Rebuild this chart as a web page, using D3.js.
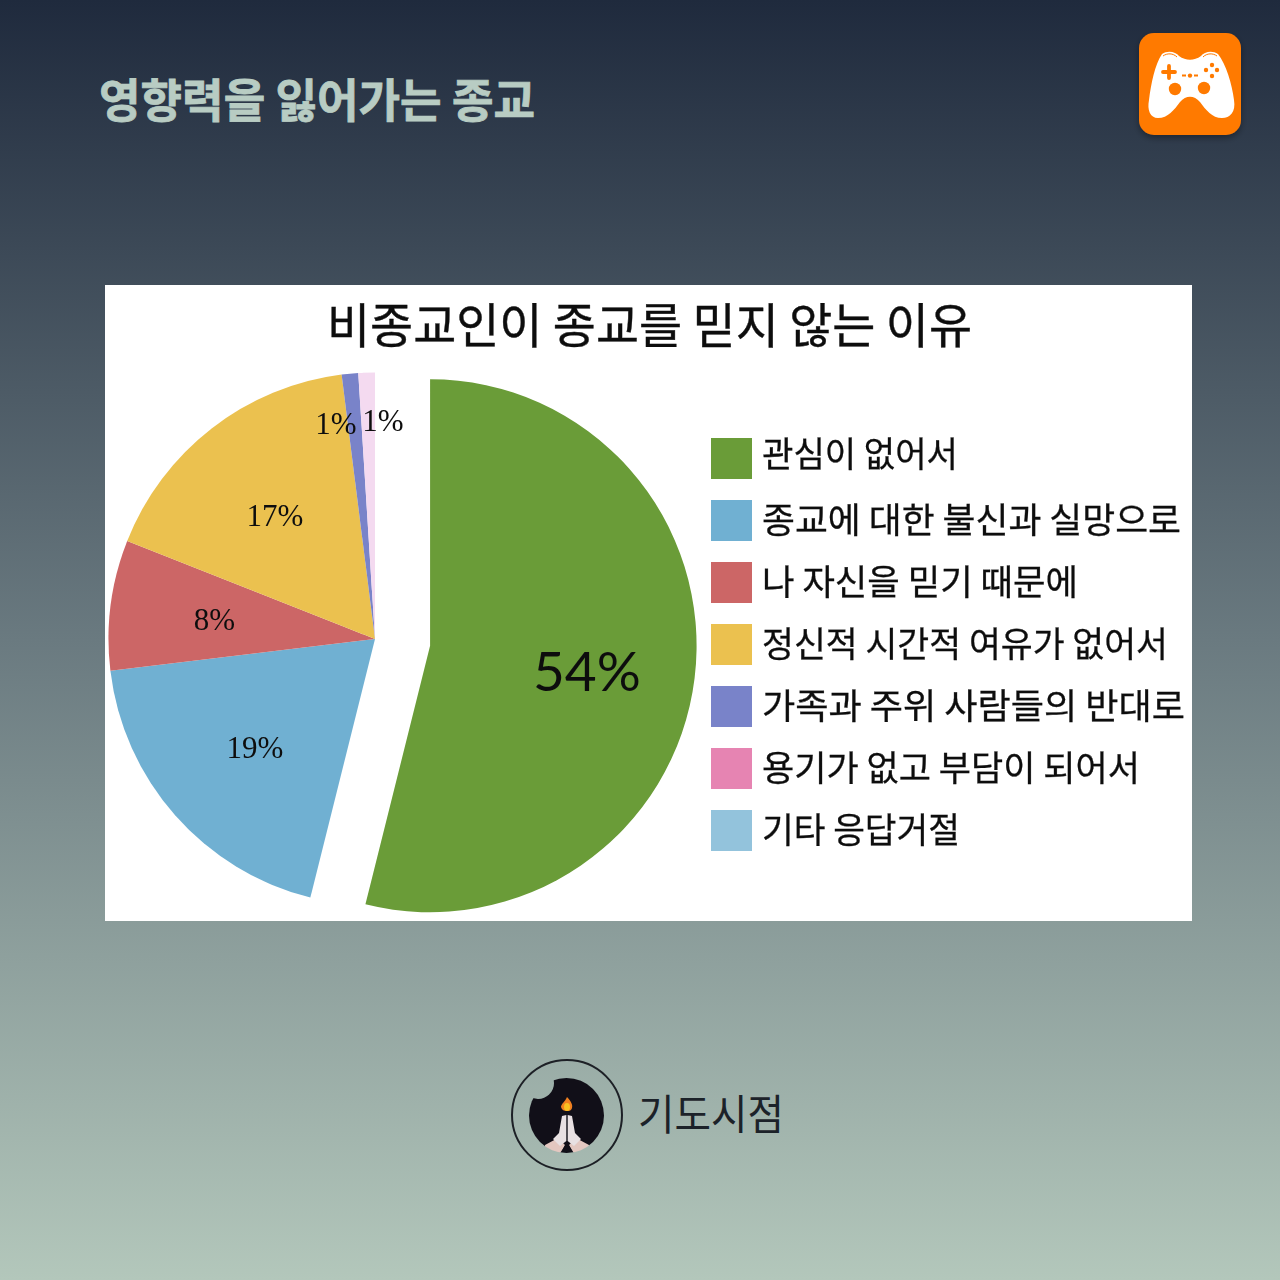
<!DOCTYPE html>
<html>
<head>
<meta charset="utf-8">
<script src="https://cdn.jsdelivr.net/npm/d3@7"></script>
<style>
  html, body { margin: 0; padding: 0; }
  svg { display: block; }
  text { font-family: "Noto Sans CJK KR", "Noto Sans", sans-serif; }
</style>
</head>
<body>
<svg width="1280" height="1280"></svg>
<script>
const headline = '영향력을 잃어가는 종교'
const chartTitle = '비종교인이 종교를 믿지 않는 이유'
const brandName = '기도시점'

const categories = [
  '관심이 없어서',
  '종교에 대한 불신과 실망으로',
  '나 자신을 믿기 때문에',
  '정신적 시간적 여유가 없어서',
  '가족과 주위 사람들의 반대로',
  '용기가 없고 부담이 되어서',
  '기타 응답거절',
]
// Values, the labels show them rounded
const shares = [53.9, 19.2, 7.9, 17.0, 1.0, 1.0, 0]
const shareLabels = ['54%', '19%', '8%', '17%', '1%', '1%', '']
const sliceColors = ['#6a9c37', '#70b0d2', '#cc6666', '#ebc14f', '#7983c9', '#f4daf0', '#93c3dc']
const legendColors = ['#6a9c37', '#70b0d2', '#cc6666', '#ebc14f', '#7983c9', '#e684b2', '#93c3dc']
// Rendered width of each legend line in the reference
const legendWidths = [196, 419, 316, 406, 423, 378, 198]

const svg = d3.select('svg')
const defs = svg.append('defs')

const bg = defs.append('linearGradient')
  .attr('id', 'bg').attr('x1', 0).attr('y1', 0).attr('x2', 0).attr('y2', 1)
bg.append('stop').attr('offset', '0%').attr('stop-color', '#1f2a3d')
bg.append('stop').attr('offset', '50%').attr('stop-color', '#6a7a80')
bg.append('stop').attr('offset', '100%').attr('stop-color', '#b3c7bb')

const shadow = defs.append('filter').attr('id', 'shadow')
  .attr('x', '-20%').attr('y', '-20%').attr('width', '140%').attr('height', '140%')
shadow.append('feDropShadow')
  .attr('dx', 0).attr('dy', 3).attr('stdDeviation', 3)
  .attr('flood-color', '#000').attr('flood-opacity', 0.35)

// The chart in the reference is an enlarged bitmap, so it is slightly soft
defs.append('filter').attr('id', 'soft')
  .append('feGaussianBlur').attr('stdDeviation', 0.45)

svg.append('rect').attr('width', 1280).attr('height', 1280).attr('fill', 'url(#bg)')

svg.append('text')
  .attr('x', 99).attr('y', 117)
  .attr('textLength', 436).attr('lengthAdjust', 'spacingAndGlyphs')
  .attr('font-size', 46).attr('font-weight', 700).attr('fill', '#b8ccc3')
  .attr('stroke', '#b8ccc3').attr('stroke-width', 0.8)
  .text(headline)

// Game controller badge, top right
const badge = svg.append('g')
badge.append('rect')
  .attr('x', 1139).attr('y', 33).attr('width', 102).attr('height', 102).attr('rx', 15)
  .attr('fill', '#ff7a00').attr('filter', 'url(#shadow)')
badge.append('path')
  .attr('fill', '#fff')
  .attr('d', 'M1162 54 C1168 50 1176 52 1179 56 C1186 61 1194 61 1201 56 C1204 52 1212 50 1218 54 C1226 64 1232 84 1234 100 C1236 112 1230 118 1222 118 C1212 118 1206 110 1200 102 C1194 95 1186 95 1180 102 C1174 110 1168 118 1158 118 C1150 118 1147 110 1149 100 C1151 84 1155 64 1162 54 Z')
badge.append('path')
  .attr('stroke', '#ff7a00').attr('stroke-width', 1).attr('fill', 'none')
  .attr('d', 'M1163 56 C1167 53 1173 53 1177 57 M1203 57 C1207 53 1213 53 1217 56')
badge.selectAll('circle.stick')
  .data([[1175, 89], [1204, 88]])
  .enter().append('circle')
  .attr('cx', (d) => d[0]).attr('cy', (d) => d[1]).attr('r', 6.2)
  .attr('fill', '#ff7a00')
badge.selectAll('circle.btn')
  .data([[1212, 65], [1206, 70], [1217, 70], [1212, 76], [1190, 75.6]])
  .enter().append('circle')
  .attr('cx', (d) => d[0]).attr('cy', (d) => d[1]).attr('r', 2.2)
  .attr('fill', '#ff7a00')
badge.append('path')
  .attr('stroke', '#ff7a00').attr('stroke-width', 3.8).attr('stroke-linecap', 'round')
  .attr('fill', 'none')
  .attr('d', 'M1169 66 V78 M1163 72 H1175')
badge.append('path')
  .attr('stroke', '#ff7a00').attr('stroke-width', 2).attr('fill', 'none')
  .attr('d', 'M1182 75.6 H1186 M1194 75.6 H1198')

// White chart panel
svg.append('rect')
  .attr('x', 105).attr('y', 285).attr('width', 1087).attr('height', 636)
  .attr('fill', '#fff')
const chart = svg.append('g').attr('filter', 'url(#soft)')

chart.append('text')
  .attr('x', 327).attr('y', 343)
  .attr('textLength', 645).attr('lengthAdjust', 'spacingAndGlyphs')
  .attr('font-size', 48).attr('fill', '#111')
  .attr('stroke', '#111').attr('stroke-width', 0.4)
  .text(chartTitle)

// Pie
const radius = 266.5
const center = [375, 639]
const explode = 55.5
const labelRadius = 160
const pieData = d3.pie().sort(null).value((d) => d)(shares)
const arc = d3.arc().innerRadius(0).outerRadius(radius)
const midAngle = (d) => (d.startAngle + d.endAngle) / 2

// Small label shifts, the two thin slices have theirs pushed apart and out
const labelNudge = { 0: [-2, 6], 1: [0, 2], 2: [-2, 1], 3: [-2, 3], 4: [-24, -57], 5: [13, -59] }

const pie = chart.append('g').attr('transform', `translate(${center})`)
pie.selectAll('path')
  .data(pieData)
  .enter()
  .append('path')
  .attr('d', arc)
  .attr('fill', (d, i) => sliceColors[i])
  .attr('transform', (d, i) => i === 0
    ? `translate(${explode * Math.sin(midAngle(d))},${-explode * Math.cos(midAngle(d))})`
    : null)

pie.selectAll('text')
  .data(pieData)
  .enter()
  .append('text')
  .attr('x', (d, i) => {
    const base = labelRadius * Math.sin(midAngle(d)) + (i === 0 ? explode * Math.sin(midAngle(d)) : 0)
    return base + (labelNudge[i] ? labelNudge[i][0] : 0)
  })
  .attr('y', (d, i) => {
    const base = -labelRadius * Math.cos(midAngle(d)) + (i === 0 ? -explode * Math.cos(midAngle(d)) : 0)
    return base + (labelNudge[i] ? labelNudge[i][1] : 0)
  })
  .attr('dy', '0.35em')
  .attr('text-anchor', 'middle')
  .attr('font-size', (d, i) => i === 0 ? 55 : 31)
  .style('font-family', (d, i) => i === 0 ? 'Lato' : '"Liberation Serif"')
  .attr('fill', '#111')
  .text((d, i) => shareLabels[i])

// Legend
const legendY = d3.scalePoint().domain(categories).range([438, 810])
const legend = chart.append('g').selectAll('g')
  .data(categories)
  .enter()
  .append('g')
  .attr('transform', (d) => `translate(711,${legendY(d)})`)
legend.append('rect')
  .attr('width', 41).attr('height', 41)
  .attr('fill', (d, i) => legendColors[i])
legend.append('text')
  .attr('x', 51).attr('y', (d, i) => i === 0 ? 29 : 33)
  .attr('textLength', (d, i) => legendWidths[i]).attr('lengthAdjust', 'spacingAndGlyphs')
  .attr('font-size', 35).attr('fill', '#111')
  .attr('stroke', '#111').attr('stroke-width', 0.3)
  .text((d) => d)

// Brand logo at the bottom
const logo = svg.append('g')
logo.append('circle')
  .attr('cx', 567).attr('cy', 1115).attr('r', 55)
  .attr('fill', 'none').attr('stroke', '#1d2026').attr('stroke-width', 2)
defs.append('clipPath').attr('id', 'disc')
  .append('circle').attr('cx', 566.5).attr('cy', 1115.5).attr('r', 37.5)
const bite = defs.append('mask').attr('id', 'bite')
  .attr('maskUnits', 'userSpaceOnUse')
  .attr('x', 500).attr('y', 1050).attr('width', 140).attr('height', 130)
bite.append('rect').attr('x', 500).attr('y', 1050).attr('width', 140).attr('height', 130).attr('fill', '#fff')
bite.append('circle').attr('cx', 538).attr('cy', 1083).attr('r', 16).attr('fill', '#000')
const disc = logo.append('g').attr('clip-path', 'url(#disc)').attr('mask', 'url(#bite)')
disc.append('rect').attr('x', 525).attr('y', 1075).attr('width', 85).attr('height', 80).attr('fill', '#110f18')
disc.append('path').attr('fill', '#e3c7c0')
  .attr('d', 'M545 1145 L558 1138 L565 1145 L560 1155 L545 1155 Z M589 1145 L576 1138 L569 1145 L574 1155 L589 1155 Z')
disc.append('path').attr('fill', '#e8e0e2')
  .attr('d', 'M566.3 1115 L562 1116 L559 1133 L553 1139 L560 1146 L566.3 1141 Z M567.7 1115 L572 1116 L575 1133 L581 1139 L574 1146 L567.7 1141 Z')
disc.append('path').attr('fill', '#110f18')
  .attr('d', 'M567 1142 L575 1155 L559 1155 Z')
logo.append('path').attr('fill', '#f08020')
  .attr('d', 'M567 1097 C571 1101 573 1105 572 1108 C571 1111 569 1111 567 1111 C564 1111 562 1110 561 1107 C561 1104 565 1102 567 1097 Z')
logo.append('ellipse').attr('cx', 567).attr('cy', 1107).attr('rx', 3).attr('ry', 4).attr('fill', '#f8c020')

svg.append('text')
  .attr('x', 638).attr('y', 1130)
  .attr('textLength', 146).attr('lengthAdjust', 'spacingAndGlyphs')
  .attr('font-size', 42).attr('font-weight', 400).attr('fill', '#1c2229')
  .text(brandName)
</script>
</body>
</html>
